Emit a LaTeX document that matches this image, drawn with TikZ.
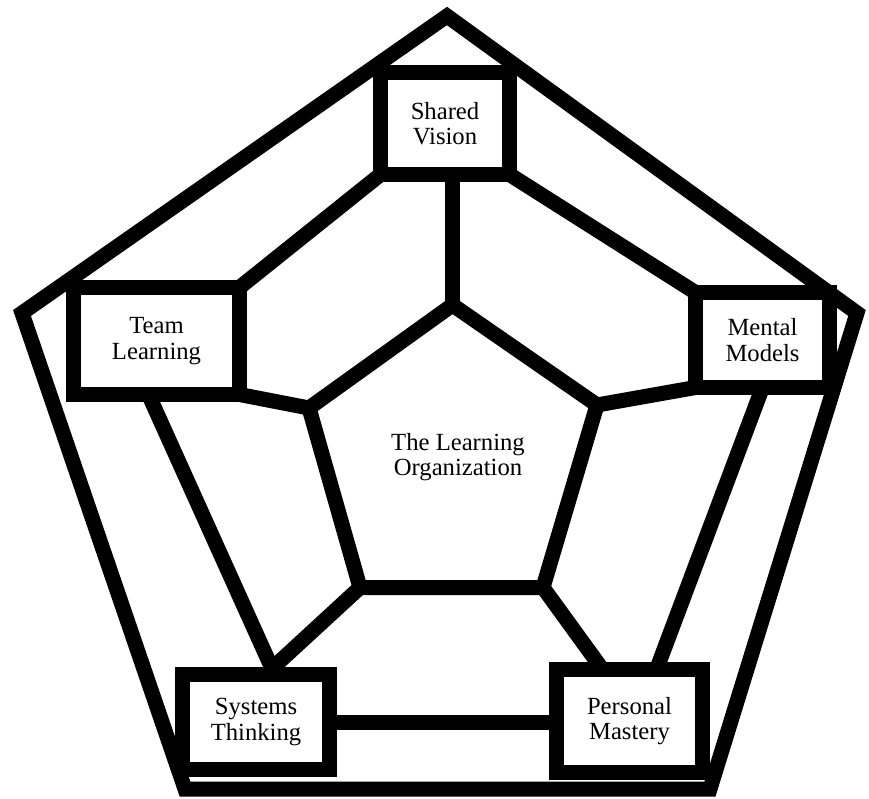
\documentclass[tikz,border=0pt]{standalone}
\usepackage{fontspec}
\setmainfont{Liberation Serif}
\usetikzlibrary{calc,backgrounds}
\tikzset{
    thickline/.style={line width=11.25pt, line join=miter},
    discipline/.style={draw, line width=11.25pt, fill=white, inner sep=0pt, outer sep=0pt,
        align=center, font=\fontsize{18.5pt}{19.2pt}\selectfont},
}
\begin{document}
\begin{tikzpicture}[x=0.75pt,y=-0.75pt]
        \useasboundingbox (0,0) rectangle (869,799);

        \node[discipline, minimum width=96.75pt, minimum height=76.5pt] (sv) at (445,123.5) {Shared\\Vision};
        \node[discipline, minimum width=124.5pt, minimum height=80.25pt] (tl) at (156.5,341) {Team\\Learning};
        \node[discipline, minimum width=100.5pt, minimum height=71.25pt] (mm) at (762.5,340) {Mental\\Models};
        \node[discipline, minimum width=110.25pt, minimum height=71.25pt] (st) at (256,722) {Systems\\Thinking};
        \node[discipline, minimum width=109.5pt, minimum height=77.25pt] (pm) at (629.5,721) {Personal\\Mastery};

        \draw[thickline] (447,16) -- (857,313) -- (710,789) -- (185,789) -- (22,313) -- cycle;

        \coordinate (itop) at (452.5,305);
        \coordinate (iright) at (597,405);
        \coordinate (ibr) at (543,587.5);
        \coordinate (ibl) at (360,587.5);
        \coordinate (ileft) at (309,408);
        \draw[thickline] (itop) -- (iright) -- (ibr) -- (ibl) -- (ileft) -- cycle;
        \node[align=center, font=\fontsize{18.5pt}{19.2pt}\selectfont] (tlo) at (458,457) {The Learning\\Organization};

        \coordinate (stjoin) at ($(st.north)+(16,-6)$);
        \begin{scope}[on background layer]
            \draw[thickline] (itop) -- (itop |- sv.south);
            \draw[thickline] (sv.south west) -- (tl.north east);
            \draw[thickline] (sv.south east) -- (mm.north west);
            \draw[thickline] (tl.south east) -- (ileft);
            \draw[thickline] (mm.south west) -- (iright);
            \draw[thickline] ($(tl.south)+(-8,0)$) -- (stjoin) -- (ibl);
            \draw[thickline] (mm.south) -- ($(pm.north)+(27,0)$);
            \draw[thickline] (ibr) -- ($(pm.north)+(-27,0)$);
            \draw[thickline] (st.east) -- (st.east -| pm.west);
        \end{scope}
    \end{tikzpicture}
\end{document}
